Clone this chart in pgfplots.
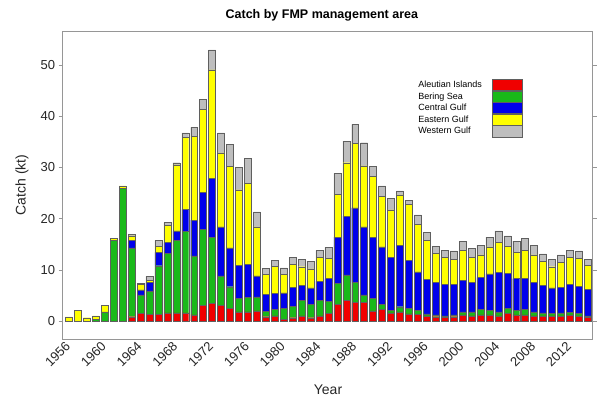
\documentclass[border=0pt]{standalone}
\usepackage{pgfplots}
\pgfplotsset{compat=1.18}
\usepackage{pgfplotstable}
\usepackage{fontspec}
\setmainfont{Liberation Sans}
\definecolor{cRed}{RGB}{240,0,0}
\definecolor{cGreen}{RGB}{25,185,25}
\definecolor{cBlue}{RGB}{0,0,235}
\definecolor{cYellow}{RGB}{255,255,0}
\definecolor{cGray}{RGB}{190,190,190}
\definecolor{cEdge}{RGB}{95,95,95}
\definecolor{cAxis}{RGB}{150,150,150}

\pgfplotstableread{
year ai bs cg eg wg
1956 0 0 0 0.8 0
1957 0 0 0 2.1 0
1958 0 0 0 0.65 0
1959 0 0.3 0 0.7 0
1960 0 1.8 0 1.3 0
1961 0 15.7 0 0.4 0
1962 0 25.9 0 0.5 0
1963 0.85 13.45 1.5 0.8 0.3
1964 1.5 3.6 1.0 1.0 0.3
1965 1.3 4.6 1.6 0.4 0.8
1966 1.3 9.5 2.6 1.2 1.1
1967 1.6 11.6 2.1 3.4 0.5
1968 1.6 14.2 1.8 12.9 0.4
1969 1.6 15.9 4.3 14.0 0.9
1970 1.2 11.5 7.0 16.4 1.7
1971 3.0 14.9 7.2 16.2 2.0
1972 3.4 12.9 11.5 21.2 3.9
1973 3.0 5.8 9.6 14.4 3.9
1974 2.5 4.2 7.6 15.9 4.3
1975 1.8 2.6 6.5 14.7 4.4
1976 1.8 2.8 6.5 15.8 4.8
1977 2.0 2.7 4.1 9.6 2.9
1978 0.85 1.1 3.2 3.9 1.3
1979 1.0 1.3 3.1 5.3 1.2
1980 0.3 2.2 3.0 3.6 1.3
1981 0.65 2.25 3.7 4.5 1.4
1982 1.0 3.1 2.9 3.6 1.5
1983 0.65 2.65 3.2 3.7 1.5
1984 1.0 3.1 3.7 4.6 1.4
1985 1.5 2.3 4.5 3.9 2.2
1986 3.3 4.0 9.1 8.3 4.1
1987 4.1 4.9 11.5 10.4 4.2
1988 3.6 3.9 14.6 12.6 3.7
1989 3.6 1.5 13.3 11.9 4.5
1990 2.0 2.4 12.0 11.8 2.0
1991 2.3 1.0 11.2 9.8 2.1
1992 1.6 0.5 10.4 9.2 2.2
1993 1.8 1.0 12.0 9.8 0.8
1994 1.4 1.1 9.3 11.0 0.8
1995 1.3 0.8 7.5 9.3 1.8
1996 1.0 0.4 6.8 7.5 1.6
1997 0.85 0.35 6.3 5.7 1.4
1998 0.7 0.3 6.2 5.2 1.4
1999 0.85 0.35 6.0 4.9 1.6
2000 1.2 0.6 6.2 5.8 1.8
2001 1.0 0.8 5.7 5.0 1.7
2002 1.2 1.1 6.2 4.4 1.9
2003 1.2 0.9 7.1 5.3 1.9
2004 1.0 0.8 7.7 5.8 2.3
2005 1.5 1.0 6.8 5.3 2.0
2006 1.2 0.9 6.2 5.1 2.2
2007 1.2 1.1 6.0 5.5 2.3
2008 1.0 0.8 5.7 5.4 1.9
2009 1.0 0.6 5.4 4.6 1.5
2010 1.0 0.5 5.0 4.1 1.4
2011 1.0 0.6 5.0 4.8 1.5
2012 1.2 0.5 5.5 5.2 1.4
2013 1.0 0.5 5.3 5.4 1.5
2014 0.7 0.3 5.2 4.7 1.2
}\catch

\begin{document}
\begin{tikzpicture}
\path[use as bounding box] (-62.7pt,-61pt) rectangle (534.3pt,339pt);
\begin{axis}[
  at={(0,0)}, anchor=south west,
  scale only axis, width=530pt, height=308pt,
  ybar stacked, bar width=0.78,
  xmin=1955.3, xmax=2014.55, ymin=-3.5, ymax=56.6,
  xtick={1956,1960,...,2012},
  ytick={0,10,...,50},
  xtick style={draw=none},
  ytick pos=both, yticklabel pos=left,
  tick align=outside,
  major tick length=4pt,
  tick style={cAxis, line width=0.6pt},
  axis line style={cAxis, line width=0.8pt},
  /pgf/number format/assume math mode=true,
  /pgf/number format/1000 sep={},
  tick label style={text=black!85, font=\fontsize{13}{15}\selectfont},
  x tick label style={xshift=4.5pt, yshift=-2pt, rotate=45, anchor=base east},
  title={Catch by FMP management area},
  every axis title/.style={at={(axis description cs:0.489,1.052)}, anchor=center, font=\bfseries\fontsize{12.5}{14}\selectfont},
  xlabel={Year},
  every axis x label/.style={at={(axis description cs:0.5006,-0.1656)}, anchor=center, font=\fontsize{14}{16}\selectfont, text=black!85},
  ylabel={Catch (kt)},
  every axis y label/.style={at={(axis description cs:-0.0768,0.5)}, rotate=90, anchor=center, font=\fontsize{14}{16}\selectfont, text=black!85},
  legend plot pos=right,
  legend cell align=left,
  legend image code/.code={\draw[#1] (0pt,-5.6pt) rectangle (30pt,5.6pt);},
  legend style={at={(axis description cs:0.665,0.851)}, anchor=north west, draw=none, fill=none,
    font=\fontsize{9}{11}\selectfont, row sep=0pt, column sep=10pt, nodes={inner sep=0pt}},
]
\addplot[fill=cRed, draw=cEdge, line width=0.4pt] table[x=year,y=ai]{\catch};
\addplot[fill=cGreen, draw=cEdge, line width=0.4pt] table[x=year,y=bs]{\catch};
\addplot[fill=cBlue, draw=cEdge, line width=0.4pt] table[x=year,y=cg]{\catch};
\addplot[fill=cYellow, draw=cEdge, line width=0.4pt] table[x=year,y=eg]{\catch};
\addplot[fill=cGray, draw=cEdge, line width=0.4pt] table[x=year,y=wg]{\catch};
\legend{Aleutian Islands, Bering Sea, Central Gulf, Eastern Gulf, Western Gulf}
\end{axis}
\end{tikzpicture}
\end{document}
